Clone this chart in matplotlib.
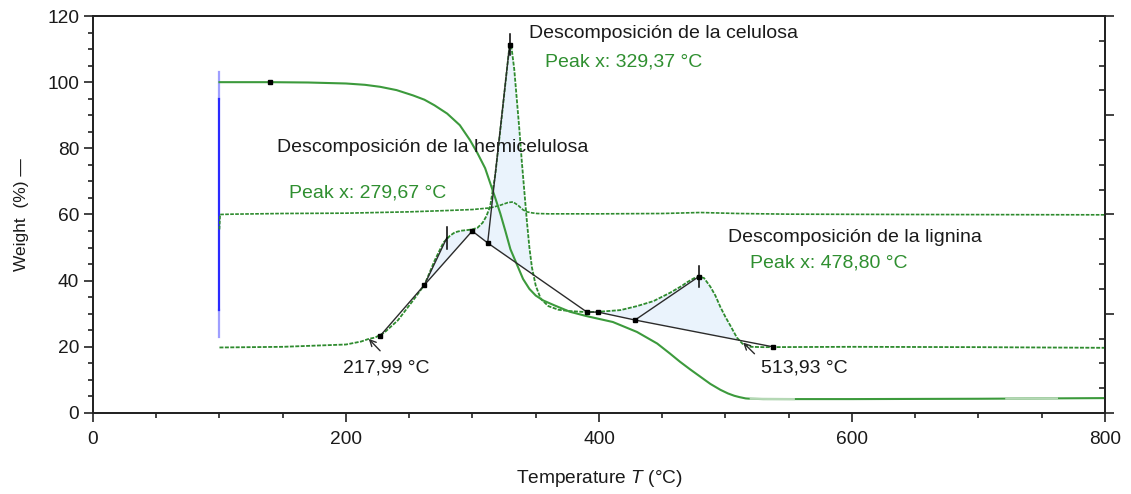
import numpy as np
import matplotlib
matplotlib.use("Agg")
import matplotlib.pyplot as plt
from matplotlib.ticker import MultipleLocator

plt.rcParams["font.family"] = ["Liberation Sans", "DejaVu Sans"]
plt.rcParams["mathtext.fontset"] = "custom"
plt.rcParams["mathtext.rm"] = "Liberation Sans"
plt.rcParams["mathtext.it"] = "Liberation Sans:italic"

# --- TG curve: mass (%) vs temperature (°C)
temp_tg = [100, 140, 170, 200, 215, 227, 240, 253, 262, 270, 280, 290, 298, 304, 310,
           314, 318, 322, 326, 330, 335, 340, 345, 350, 356, 365, 377, 390, 411, 430,
           446, 456, 464, 472, 480, 488, 496, 502, 507, 511, 516, 520, 530, 540, 600,
           700, 800]
weight_tg = [100, 100, 99.9, 99.6, 99.2, 98.6, 97.6, 96, 94.7, 93, 90.5, 87, 82.5, 78.5, 74,
             69.5, 65, 60.3, 55, 49.5, 45, 40.5, 37.5, 35.5, 34, 32.5, 30.6, 29.3, 27.5, 24.5,
             21, 18, 15.5, 13.2, 11, 8.8, 7, 5.9, 5.2, 4.8, 4.4, 4.3, 4.2, 4.2, 4.2,
             4.3, 4.5]

# --- DTG curve (scaled onto the same axis)
temp_dtg = [100, 150, 200, 212, 218, 223, 230, 241, 253, 262, 270, 277, 282, 286,
            291, 296, 300, 304, 308, 311, 314, 318, 322, 326, 328, 329.37, 331, 333,
            335, 337, 339, 341, 343, 345, 347, 350, 354, 360, 368, 377, 390, 400,
            417, 430, 443, 456, 465, 470, 475, 478.8, 483, 488, 492, 496, 500, 504,
            509, 514, 520, 530, 600, 700, 800]
value_dtg = [19.8, 20.0, 20.7, 21.6, 22.4, 22.8, 24.2, 28, 34, 38.7, 46, 51.5, 53.5, 54.6,
             55.1, 55.3, 55.5, 56, 57.5, 59.5, 62.5, 72, 85.5, 99.5, 106.5, 111.3, 110, 104,
             95, 86, 76, 67, 58, 50, 44, 38.5, 34.5, 32.3, 31.2, 30.8, 30.5, 30.6,
             31.1, 32.3, 33.8, 36.3, 38.3, 39.6, 40.7, 41.2, 40.8, 38.2, 35.5, 32, 29, 26.3,
             22.8, 20.7, 20, 19.9, 20, 19.9, 19.7]

# --- DTA-type signal around 60 %
temp_dta = [100, 100.5, 110, 150, 200, 250, 280, 300, 314, 322, 328, 332, 336, 340,
            343, 347, 351, 360, 400, 450, 470, 480, 490, 510, 550, 650, 800]
value_dta = [55.5, 60, 60.1, 60.3, 60.4, 60.8, 61.2, 61.5, 62, 62.8, 63.6, 63.8, 62.8, 61.4,
             60.8, 60.5, 60.3, 60.2, 60.2, 60.3, 60.5, 60.6, 60.5, 60.3, 60.1, 60.0, 59.9]

# --- peak evaluation: baseline nodes and peak positions
base_temp = [227, 262, 299.8, 312, 390.5, 399.2, 428.5, 537.5]
base_value = [23.3, 38.7, 55.0, 51.4, 30.5, 30.5, 28.1, 20.0]
peak_temp = [279.67, 329.37, 478.80]
peak_value = [52.9, 111.3, 41.2]
onset_temp = [217.99, 513.93]
onset_value = [22.4, 21.3]

GREEN = "#3c9a3c"
GREEN_D = "#2e8b2e"
TXT_G = "#2f8f30"
INK = "#2b2b2b"

fig = plt.figure(figsize=(11.31, 4.94), dpi=100)
ax = fig.add_axes([0.0822, 0.1640, 0.8948, 0.8036])

# shaded peak areas between the DTG curve and the evaluation baseline
fx = np.array(temp_dtg, dtype=float)
fy = np.array(value_dtg, dtype=float)
fill_x = [227, 299.8, 312, 390.5, 399.2, 537.5]
fill_y = [23.3, 55.0, 51.4, 30.5, 30.5, 20.0]
mask = (fx >= 227) & (fx <= 537.5)
bx = fx[mask]
by = np.interp(bx, fill_x, fill_y)
ax.fill_between(bx, fy[mask], by, where=fy[mask] >= by, interpolate=True,
                color="#eaf3fc", lw=0, zorder=1)

# instrument marker at the start of the run
ax.plot([100, 100], [95, 103], color="#2a2aff", lw=1.6, alpha=0.45, zorder=2)
ax.plot([100, 100], [31, 95], color="#2a2aff", lw=1.6, zorder=2)
ax.plot([100, 100], [23, 31], color="#2a2aff", lw=1.6, alpha=0.45, zorder=2)

# curves
ax.plot(temp_dta, value_dta, color=GREEN_D, lw=1.2, ls=(0, (2.2, 0.8)), zorder=3)
ax.plot(temp_dtg, value_dtg, color=GREEN_D, lw=1.3, ls=(0, (2.2, 0.8)), zorder=3)
ax.plot(temp_tg, weight_tg, color=GREEN, lw=1.5, zorder=3)
tg_t = np.array(temp_tg, dtype=float)
tg_w = np.array(weight_tg, dtype=float)
for lo, hi in [(520, 554), (722, 762)]:
    ax.plot([lo, hi], np.interp([lo, hi], tg_t, tg_w), color="#b5d8b5", lw=1.6, zorder=3.5)

# evaluation lines
lw_b = 1.0
ax.plot(base_temp[:3], base_value[:3], color=INK, lw=lw_b, zorder=4)
ax.plot([base_temp[1], peak_temp[0]], [base_value[1], peak_value[0]], color=INK, lw=lw_b, zorder=4)
ax.plot(base_temp[2:5], base_value[2:5], color=INK, lw=lw_b, zorder=4)
ax.plot([base_temp[3], peak_temp[1]], [base_value[3], peak_value[1]], color=INK, lw=lw_b, zorder=4)
ax.plot(base_temp[4:], base_value[4:], color=INK, lw=lw_b, zorder=4)
ax.plot([base_temp[6], peak_temp[2]], [base_value[6], peak_value[2]], color=INK, lw=lw_b, zorder=4)
ax.plot(base_temp, base_value, ls="none", marker="s", ms=2.5, color="black", zorder=5)
ax.plot([140], [100], ls="none", marker="s", ms=3, color="black", zorder=5)
ax.plot(peak_temp[1:], peak_value[1:], ls="none", marker="s", ms=2.8, color="black", zorder=5)
for pt, pv, h in zip(peak_temp, peak_value, [3.2, 3.2, 3.2]):
    ax.plot([pt, pt], [pv - h, pv + h], color="black", lw=1.1, zorder=5)

# onset / endset arrows
arrow_kw = dict(arrowstyle="->", lw=1.0, color=INK, shrinkA=0, shrinkB=0, mutation_scale=11)
ax.annotate("", xy=(onset_temp[0], onset_value[0]), xytext=(onset_temp[0] + 9, onset_value[0] - 3.6),
            arrowprops=arrow_kw, zorder=6)
ax.annotate("", xy=(onset_temp[1], onset_value[1]), xytext=(onset_temp[1] + 9, onset_value[1] - 3.4),
            arrowprops=arrow_kw, zorder=6)

# annotations
fs = 14
ax.text(344.7, 114.6, "Descomposición de la celulosa", fontsize=fs, color="#1a1a1a", va="center")
ax.text(357.3, 106.1, "Peak x: 329,37 °C", fontsize=fs, color=TXT_G, va="center")
ax.text(145.5, 80.4, "Descomposición de la hemicelulosa", fontsize=fs, color="#1a1a1a", va="center")
ax.text(155.0, 66.5, "Peak x: 279,67 °C", fontsize=fs, color=TXT_G, va="center")
ax.text(502.0, 52.9, "Descomposición de la lignina", fontsize=fs, color="#1a1a1a", va="center")
ax.text(519.4, 45.3, "Peak x: 478,80 °C", fontsize=fs, color=TXT_G, va="center")
ax.text(197.6, 13.6, "217,99 °C", fontsize=fs, color="#1a1a1a", va="center")
ax.text(528.0, 13.6, "513,93 °C", fontsize=fs, color="#1a1a1a", va="center")

# axes
ax.set_xlim(0, 800)
ax.set_ylim(0, 120)
ax.xaxis.set_major_locator(MultipleLocator(200))
ax.xaxis.set_minor_locator(MultipleLocator(50))
ax.yaxis.set_major_locator(MultipleLocator(20))
ax.yaxis.set_minor_locator(MultipleLocator(5))
ax.tick_params(which="both", direction="out", color="#222222", width=1.2,
               labelsize=13.8, labelcolor="#1a1a1a", top=False, right=False)
ax.tick_params(which="major", length=6.3)
ax.tick_params(which="minor", length=3.8)
ax.tick_params(axis="x", which="major", pad=7.0)
ax.tick_params(axis="y", which="major", pad=3.6)
for s in ax.spines.values():
    s.set_linewidth(1.3)
    s.set_color("#222222")

ax2 = ax.twinx()
ax2.set_ylim(0, 120)
ax2.yaxis.set_major_locator(MultipleLocator(30))
ax2.yaxis.set_minor_locator(MultipleLocator(7.5))
ax2.tick_params(which="major", direction="out", length=6.8, width=1.2, color="#222222", labelright=False)
ax2.tick_params(which="minor", direction="in", length=4.2, width=1.2, color="#222222")
for s in ax2.spines.values():
    s.set_linewidth(1.3)
    s.set_color("#222222")

ax.set_xlabel("Temperature $\\mathit{T}$ (°C)", fontsize=13.8, color="#1a1a1a", labelpad=14)
ax.set_ylabel("Weight  (%) —", fontsize=12.5, color="#1a1a1a", labelpad=13)

fig.savefig("out.png", dpi=100)
